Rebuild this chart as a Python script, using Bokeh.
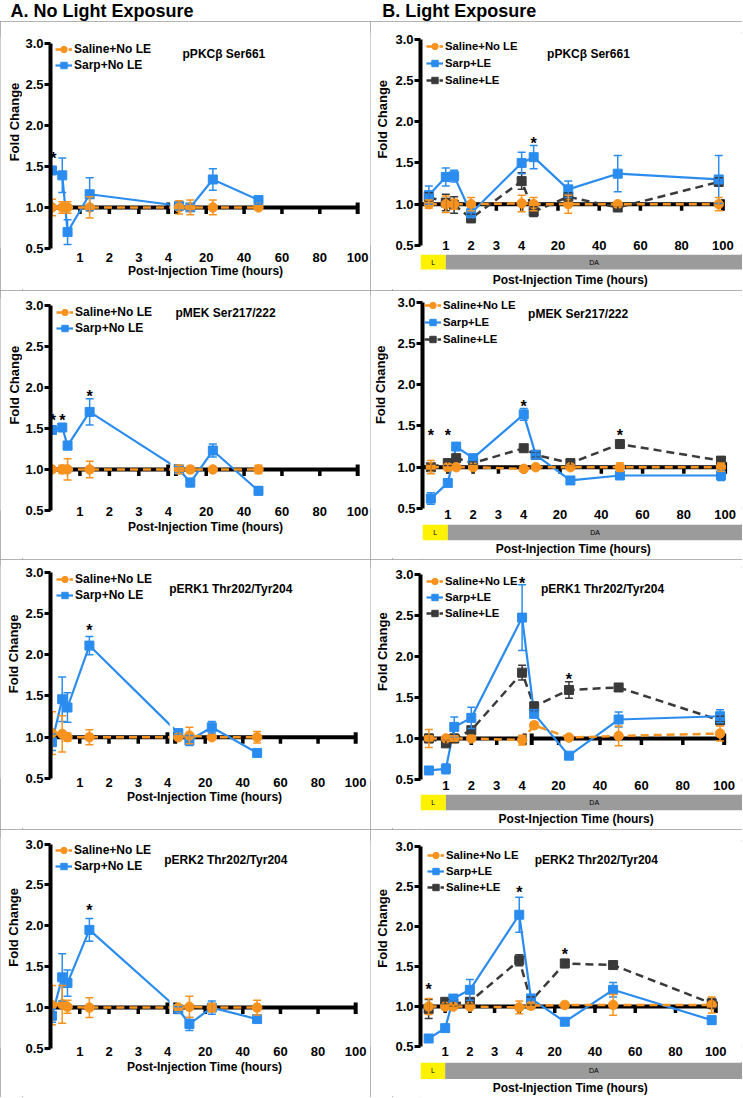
import math
from bokeh.plotting import figure
from bokeh.layouts import column, row
from bokeh.models import (Range1d, FixedTicker, NumeralTickFormatter, Whisker, TeeHead,
                          ColumnDataSource, Legend, LegendItem, Label)
from bokeh.embed import file_html
from bokeh.resources import INLINE
from bokeh.core.properties import value

# ---------------- data (hours / fold change) ----------------
TIMES_A = [0.05, 0.4, 0.58, 1.33, 5.7, 11.6, 23.5, 47.6]
TIMES_B = [0.33, 1.0, 1.33, 2.0, 4.0, 8.2, 25.0, 49.0, 98.0]
X_TICK_HOURS = [1, 2, 3, 4, 20, 40, 60, 80, 100]
X_TICK_LABELS = ["1", "2", "3", "4", "20", "40", "60", "80", "100"]
Y_TICKS = [0.5, 1.0, 1.5, 2.0, 2.5, 3.0]
PANEL_TITLES = ["pPKCβ Ser661", "pMEK Ser217/222", "pERK1 Thr202/Tyr204", "pERK2 Thr202/Tyr204"]
HEADERS = ["A. No Light Exposure", "B. Light Exposure"]
Y_LABEL = "Fold Change"
X_LABEL = "Post-Injection Time (hours)"
BAR_LABELS = ["L", "DA"]          # light phase 0-1 h, dark adaptation afterwards
BAR_EDGES_H = [0.0, 1.0]

# A. No light exposure
PKC_A_SALINE = [1.0, 1.0, 1.0, 1.0, 1.0, 1.0, 1.0, 1.0]
PKC_A_SALINE_ERR = [0.10, 0.07, 0.07, 0.13, 0.08, 0.09, 0.09, 0.02]
PKC_A_SARP = [1.45, 1.39, 0.70, 1.16, 1.02, 1.0, 1.34, 1.09]
PKC_A_SARP_ERR = [0.04, 0.21, 0.15, 0.20, 0.05, 0.04, 0.13, 0.05]
PKC_A_STAR_T = [0.1]
PKC_A_STAR_Y = [1.70]

MEK_A_SALINE = [1.0, 1.0, 1.0, 1.0, 1.0, 1.0, 1.0, 1.0]
MEK_A_SALINE_ERR = [0.03, 0.05, 0.13, 0.10, 0.05, 0.04, 0.02, 0.05]
MEK_A_SARP = [1.48, 1.51, 1.29, 1.70, 1.0, 0.84, 1.23, 0.74]
MEK_A_SARP_ERR = [0.05, 0.04, 0.05, 0.16, 0.04, 0.05, 0.08, 0.05]
MEK_A_STAR_T = [0.08, 0.4, 1.33]
MEK_A_STAR_Y = [1.70, 1.70, 2.0]

ERK1_A_SALINE = [1.05, 1.04, 1.0, 1.0, 1.0, 1.02, 1.0, 1.0]
ERK1_A_SALINE_ERR = [0.26, 0.22, 0.05, 0.09, 0.02, 0.10, 0.02, 0.07]
ERK1_A_SARP = [0.94, 1.46, 1.36, 2.11, 1.05, 0.96, 1.12, 0.81]
ERK1_A_SARP_ERR = [0.10, 0.27, 0.18, 0.11, 0.02, 0.06, 0.07, 0.02]
ERK1_A_STAR_T = [1.33]
ERK1_A_STAR_Y = [2.40]

ERK2_A_SALINE = [1.03, 1.04, 1.01, 1.0, 1.0, 1.01, 1.0, 1.0]
ERK2_A_SALINE_ERR = [0.24, 0.23, 0.08, 0.12, 0.03, 0.13, 0.05, 0.09]
ERK2_A_SARP = [0.90, 1.37, 1.30, 1.95, 0.98, 0.80, 1.0, 0.86]
ERK2_A_SARP_ERR = [0.08, 0.29, 0.16, 0.14, 0.03, 0.08, 0.08, 0.03]
ERK2_A_STAR_T = [1.33]
ERK2_A_STAR_Y = [2.30]

# B. Light exposure
PKC_B_SALINE = [1.0, 1.0, 1.0, 1.0, 1.01, 1.0, 1.0, 1.0, 1.0]
PKC_B_SALINE_ERR = [0.05, 0.10, 0.06, 0.08, 0.10, 0.08, 0.11, 0.02, 0.08]
PKC_B_SARP = [1.11, 1.33, 1.34, 0.89, 1.50, 1.57, 1.18, 1.37, 1.30]
PKC_B_SARP_ERR = [0.11, 0.11, 0.07, 0.05, 0.13, 0.14, 0.10, 0.22, 0.29]
PKC_B_SALINE_LE = [1.09, 1.02, 0.99, 0.83, 1.28, 0.91, 1.09, 0.96, 1.27]
PKC_B_SALINE_LE_ERR = [0.05, 0.10, 0.10, 0.05, 0.10, 0.06, 0.05, 0.02, 0.05]
PKC_B_STAR_T = [8.2]
PKC_B_STAR_Y = [1.84]

MEK_B_SALINE = [1.0, 1.0, 1.0, 1.0, 0.98, 1.0, 1.0, 1.0, 1.0]
MEK_B_SALINE_ERR = [0.08, 0.04, 0.02, 0.02, 0.03, 0.02, 0.02, 0.05, 0.05]
MEK_B_SARP = [0.62, 0.81, 1.25, 1.11, 1.64, 1.15, 0.84, 0.90, 0.90]
MEK_B_SARP_ERR = [0.07, 0.03, 0.04, 0.03, 0.07, 0.04, 0.02, 0.02, 0.06]
MEK_B_SALINE_LE = [1.0, 1.05, 1.11, 1.05, 1.23, 1.15, 1.05, 1.28, 1.08]
MEK_B_SALINE_LE_ERR = [0.04, 0.03, 0.03, 0.02, 0.02, 0.03, 0.03, 0.05, 0.02]
MEK_B_STAR_T = [0.33, 1.0, 4.0, 49.0]
MEK_B_STAR_Y = [1.49, 1.49, 1.85, 1.49]

ERK1_B_SALINE = [1.0, 1.0, 1.0, 1.0, 0.98, 1.16, 1.01, 1.03, 1.06]
ERK1_B_SALINE_ERR = [0.11, 0.02, 0.03, 0.02, 0.06, 0.04, 0.01, 0.12, 0.09]
ERK1_B_SARP = [0.61, 0.63, 1.14, 1.25, 2.47, 1.30, 0.79, 1.23, 1.27]
ERK1_B_SARP_ERR = [0.02, 0.06, 0.12, 0.13, 0.40, 0.05, 0.02, 0.09, 0.08]
ERK1_B_SALINE_LE = [1.0, 0.94, 1.0, 1.10, 1.80, 1.39, 1.59, 1.62, 1.22]
ERK1_B_SALINE_LE_ERR = [0.05, 0.04, 0.05, 0.04, 0.09, 0.05, 0.10, 0.02, 0.05]
ERK1_B_STAR_T = [4.0, 25.0]
ERK1_B_STAR_Y = [2.99, 1.83]

ERK2_B_SALINE = [1.0, 1.0, 1.0, 1.0, 0.99, 1.01, 1.02, 1.02, 1.02]
ERK2_B_SALINE_ERR = [0.10, 0.02, 0.02, 0.02, 0.08, 0.04, 0.01, 0.13, 0.10]
ERK2_B_SARP = [0.60, 0.73, 1.10, 1.21, 2.15, 1.10, 0.81, 1.21, 0.83]
ERK2_B_SARP_ERR = [0.02, 0.03, 0.03, 0.13, 0.22, 0.05, 0.02, 0.09, 0.05]
ERK2_B_SALINE_LE = [0.97, 1.06, 1.04, 1.06, 1.58, 1.07, 1.54, 1.52, 1.04]
ERK2_B_SALINE_LE_ERR = [0.12, 0.03, 0.03, 0.03, 0.07, 0.05, 0.05, 0.01, 0.06]
ERK2_B_STAR_T = [0.33, 4.0, 25.0]
ERK2_B_STAR_Y = [1.33, 2.54, 1.76]

PANEL_DATA = {
    ("A", 0): dict(series=[("Saline+No LE", TIMES_A, PKC_A_SALINE, PKC_A_SALINE_ERR),
                           ("Sarp+No LE", TIMES_A, PKC_A_SARP, PKC_A_SARP_ERR)],
                   stars=(PKC_A_STAR_T, PKC_A_STAR_Y)),
    ("A", 1): dict(series=[("Saline+No LE", TIMES_A, MEK_A_SALINE, MEK_A_SALINE_ERR),
                           ("Sarp+No LE", TIMES_A, MEK_A_SARP, MEK_A_SARP_ERR)],
                   stars=(MEK_A_STAR_T, MEK_A_STAR_Y)),
    ("A", 2): dict(series=[("Saline+No LE", TIMES_A, ERK1_A_SALINE, ERK1_A_SALINE_ERR),
                           ("Sarp+No LE", TIMES_A, ERK1_A_SARP, ERK1_A_SARP_ERR)],
                   stars=(ERK1_A_STAR_T, ERK1_A_STAR_Y)),
    ("A", 3): dict(series=[("Saline+No LE", TIMES_A, ERK2_A_SALINE, ERK2_A_SALINE_ERR),
                           ("Sarp+No LE", TIMES_A, ERK2_A_SARP, ERK2_A_SARP_ERR)],
                   stars=(ERK2_A_STAR_T, ERK2_A_STAR_Y)),
    ("B", 0): dict(series=[("Saline+No LE", TIMES_B, PKC_B_SALINE, PKC_B_SALINE_ERR),
                           ("Sarp+LE", TIMES_B, PKC_B_SARP, PKC_B_SARP_ERR),
                           ("Saline+LE", TIMES_B, PKC_B_SALINE_LE, PKC_B_SALINE_LE_ERR)],
                   stars=(PKC_B_STAR_T, PKC_B_STAR_Y)),
    ("B", 1): dict(series=[("Saline+No LE", TIMES_B, MEK_B_SALINE, MEK_B_SALINE_ERR),
                           ("Sarp+LE", TIMES_B, MEK_B_SARP, MEK_B_SARP_ERR),
                           ("Saline+LE", TIMES_B, MEK_B_SALINE_LE, MEK_B_SALINE_LE_ERR)],
                   stars=(MEK_B_STAR_T, MEK_B_STAR_Y)),
    ("B", 2): dict(series=[("Saline+No LE", TIMES_B, ERK1_B_SALINE, ERK1_B_SALINE_ERR),
                           ("Sarp+LE", TIMES_B, ERK1_B_SARP, ERK1_B_SARP_ERR),
                           ("Saline+LE", TIMES_B, ERK1_B_SALINE_LE, ERK1_B_SALINE_LE_ERR)],
                   stars=(ERK1_B_STAR_T, ERK1_B_STAR_Y)),
    ("B", 3): dict(series=[("Saline+No LE", TIMES_B, ERK2_B_SALINE, ERK2_B_SALINE_ERR),
                           ("Sarp+LE", TIMES_B, ERK2_B_SARP, ERK2_B_SARP_ERR),
                           ("Saline+LE", TIMES_B, ERK2_B_SALINE_LE, ERK2_B_SALINE_LE_ERR)],
                   stars=(ERK2_B_STAR_T, ERK2_B_STAR_Y)),
}

# ---------------- styles & layout ----------------
FONT = "Liberation Sans"
ORANGE = "#F7931E"
BLUE = "#2B8CEF"
DARK = "#3A3A3A"
YELLOW = "#FFF200"
BARGRAY = "#9B9B9B"
OUTLINE = {"outline": "1px solid #9a9a9a", "outline-offset": "-1px"}
STYLE = {
    "Saline+No LE": dict(color=ORANGE, marker="circle", dash="8 5", size=9.5, lw=2.5),
    "Sarp+No LE": dict(color=BLUE, marker="square", dash="solid", size=9, lw=2.2),
    "Sarp+LE": dict(color=BLUE, marker="square", dash="solid", size=9, lw=2.2),
    "Saline+LE": dict(color=DARK, marker="square", dash="8 5", size=9, lw=2.5),
}

YMAX = 3.08
HEADER_H = 21
LABEL_W = 22
COL_W = {"A": 370, "B": 372}
COL_L = {"A": 0, "B": 370}
ROW_H = [269, 269, 270, 268]
ROW_T = [21, 290, 559, 829]
GAP = {"A": 0.261, "B": 0.133}
SLOPE = {"A": 0.0643, "B": 0.0815}
XEND_H = {"A": 101.5, "B": 101.8}
LEG_FONT = {"A": "12px", "B": "11.3px"}

GEOM = {
    ("A", 0): dict(axis_x=49.4, right_x=360, y30=42.7, y05=248.3, tick_so=4, lab_so=-1,
                   legend=(54, 50, 15), title=(181.7, 53.3), ylab=(14.3, 121.7)),
    ("A", 1): dict(axis_x=48.3, right_x=360, y30=305, y05=510, tick_so=-4, lab_so=1,
                   legend=(53.3, 313.3, 15), title=(174, 313.3), ylab=(14.3, 385)),
    ("A", 2): dict(axis_x=46.7, right_x=358, y30=571.7, y05=777.7, tick_so=-1, lab_so=0,
                   legend=(51.7, 580, 15), title=(166.7, 588.3), ylab=(13.3, 653.3)),
    ("A", 3): dict(axis_x=49.3, right_x=358, y30=843.3, y05=1048, tick_so=-2, lab_so=1,
                   legend=(53.3, 851.7, 15), title=(163.3, 859.3), ylab=(13.3, 926.7)),
    ("B", 0): dict(axis_x=419, right_x=726, y30=38.3, y05=244.3, tick_so=-5,
                   legend=(425, 46.7, 16.7), title=(546, 53.3), ylab=(381.7, 118.3),
                   bar=(254, 269), xlab=(569.2, 279)),
    ("B", 1): dict(axis_x=421.7, right_x=728, y30=301.7, y05=507.7, tick_so=1,
                   legend=(423.3, 305, 17), title=(527.3, 313.3), ylab=(379.5, 384.2),
                   bar=(524.3, 540), xlab=(572.5, 548.3)),
    ("B", 2): dict(axis_x=416.7, right_x=727, y30=573.3, y05=778.3, tick_so=1,
                   legend=(423.3, 580, 16.4), title=(538.3, 588.3), ylab=(382, 650.8),
                   bar=(794.3, 810), xlab=(573.8, 818.3), right_start=7.0, left_end=4.1),
    ("B", 3): dict(axis_x=418.3, right_x=719, y30=846.7, y05=1046.7, tick_so=0,
                   legend=(425, 855, 16.2), title=(533.3, 860), ylab=(382.3, 928.3),
                   bar=(1061.7, 1078.3), xlab=(569, 1086.7)),
}


def to_d(h, col, right=None):
    """Broken time axis: 0-4 h linear on the left, then a compressed 4-100 h segment."""
    if right is None:
        right = h > 4
    if not right:
        return float(h)
    return 4 + GAP[col] + (h - 4) * SLOPE[col]


def bare_figure(**kw):
    f = figure(toolbar_location=None, tools="", output_backend="svg", x_axis_type=None,
               y_axis_type=None, outline_line_color=None, background_fill_color="white",
               border_fill_color="white", **kw)
    f.grid.visible = False
    return f


def style_labels(ax, size):
    ax.major_label_text_font = FONT
    ax.major_label_text_font_size = size
    ax.major_label_text_font_style = "bold"
    ax.major_label_text_color = "black"


def build_panel(col, r):
    g = GEOM[(col, r)]
    data = PANEL_DATA[(col, r)]
    panel_h = ROW_H[r]
    has_bar = "bar" in g
    d_end = to_d(XEND_H[col], col)
    ppu = (g["y05"] - g["y30"]) / 2.5
    ppx = (g["right_x"] - g["axis_x"]) / d_end
    xd = lambda xa: (xa - g["axis_x"]) / ppx
    yv = lambda ya: 0.5 + (g["y05"] - ya) / ppu
    fw = COL_W[col] - LABEL_W
    mbl = round(g["axis_x"] - COL_L[col]) - LABEL_W
    if has_bar:
        mbr = 0
        x_end = (fw - mbl) / ppx
    else:
        mbr = COL_W[col] - round(g["right_x"] - COL_L[col])
        x_end = d_end
    top = round((g["y30"] - ROW_T[r]) - (YMAX - 3.0) * ppu)
    fh = round((YMAX - 0.5) * ppu)
    top_h = round(g["bar"][0] - ROW_T[r]) if has_bar else panel_h
    mbb = top_h - top - fh

    p = figure(width=fw, height=top_h, x_range=Range1d(0, x_end), y_range=Range1d(0.5, YMAX),
               toolbar_location=None, tools="", output_backend="svg",
               min_border_left=mbl, min_border_right=mbr, min_border_top=top, min_border_bottom=mbb,
               outline_line_color=None, background_fill_color="white", border_fill_color="white")
    p.grid.visible = False

    # y axis
    ya = p.yaxis[0]
    ya.ticker = FixedTicker(ticks=Y_TICKS)
    ya.formatter = NumeralTickFormatter(format="0.0")
    ya.bounds = (0.5, 3.0)
    ya.axis_line_width = 4
    ya.axis_line_color = "black"
    ya.major_tick_line_width = 3
    ya.major_tick_line_color = "black"
    ya.major_tick_out = 6
    ya.major_tick_in = 0
    ya.minor_tick_line_color = None
    ya.major_label_standoff = 1
    style_labels(ya, "13px")

    # x axis (tick labels; the drawn baseline sits at fold change 1.0)
    xa = p.xaxis[0]
    ticks = [to_d(h, col) for h in X_TICK_HOURS]
    xa.ticker = FixedTicker(ticks=ticks)
    xa.major_label_overrides = {t: lab for t, lab in zip(ticks, X_TICK_LABELS)}
    xa.axis_line_color = None
    xa.major_tick_line_color = None
    xa.minor_tick_line_color = None
    xa.major_tick_out = 0
    xa.major_tick_in = 0
    xa.major_label_standoff = g["tick_so"]
    style_labels(xa, "13px")
    if not has_bar:
        xa.axis_label = X_LABEL
        xa.axis_label_standoff = g["lab_so"]
        xa.axis_label_text_font = FONT
        xa.axis_label_text_font_size = "12px"
        xa.axis_label_text_font_style = "bold"
        xa.axis_label_text_color = "black"

    # baseline at fold change 1.0 (broken axis)
    broken = col == "A" or "right_start" in g
    d100 = to_d(100, col)
    if broken:
        left_end = to_d(g.get("left_end", 4.0), col, right=False)
        rstart = to_d(g.get("right_start", 4.0), col, right=True)
        x0s, x1s = [0.0, rstart], [left_end, d100]
        caps = [left_end, rstart, d100]
    else:
        x0s, x1s = [0.0], [d100]
        caps = [d100]
    p.segment(x0=x0s, y0=[1.0] * len(x0s), x1=x1s, y1=[1.0] * len(x0s),
              line_width=4, line_color="black")
    short = [t for t in ticks if all(abs(t - c) > 0.05 for c in caps)]
    p.segment(x0=short, y0=[1.0] * len(short), x1=short, y1=[1.0 - 6.5 / ppu] * len(short),
              line_width=3.5, line_color="black")
    p.segment(x0=caps, y0=[1.0 + 5 / ppu] * len(caps), x1=caps, y1=[1.0 - 6.5 / ppu] * len(caps),
              line_width=4, line_color="black")

    # series
    series = data["series"]
    draw_order = list(reversed(series))
    line_r = {}
    for name, ts, vals, errs in draw_order:
        st = STYLE[name]
        xs = [to_d(t, col) for t in ts]
        line_r[name] = p.line(xs, vals, line_color=st["color"], line_width=st["lw"],
                              line_dash=st["dash"])
    if col == "A":
        p.quad(left=[4.0 + 2.2 / ppx], right=[to_d(4.0, col, right=True) - 2.2 / ppx],
               bottom=[0.5], top=[YMAX], fill_color="white", line_color=None)
    mark_r = {}
    for name, ts, vals, errs in draw_order:
        st = STYLE[name]
        xs = [to_d(t, col) for t in ts]
        src = ColumnDataSource(dict(x=xs, lo=[v - e for v, e in zip(vals, errs)],
                                    hi=[v + e for v, e in zip(vals, errs)]))
        w = Whisker(base="x", lower="lo", upper="hi", source=src, level="glyph",
                    line_color=st["color"], line_width=1.5,
                    upper_head=TeeHead(size=8, line_color=st["color"], line_width=1.5),
                    lower_head=TeeHead(size=8, line_color=st["color"], line_width=1.5))
        p.add_layout(w)
        mark_r[name] = p.scatter(xs, vals, marker=st["marker"], size=st["size"],
                                 fill_color=st["color"], line_color=st["color"])

    # significance stars
    st_t, st_y = data["stars"]
    p.text(x=[to_d(t, col) for t in st_t], y=st_y, text=["*"] * len(st_t),
           text_font=value(FONT), text_font_size="16px", text_font_style="bold",
           text_color="black", text_align="center", text_baseline="alphabetic", y_offset=9)

    # legend (top-left inside the frame)
    gx, cy, pitch = g["legend"]
    gh = 16
    x_off = gx - g["axis_x"]
    y_off = (cy - g["y30"]) + (YMAX - 3.0) * ppu - gh / 2
    items = [LegendItem(label=name, renderers=[line_r[name], mark_r[name]]) for name, *_ in series]
    leg = Legend(items=items, location="top_left", padding=0, margin=round((x_off + y_off) / 2),
                 spacing=round(pitch - gh),
                 glyph_width=17, glyph_height=gh, label_height=gh, label_standoff=2,
                 label_text_font=FONT, label_text_font_size=LEG_FONT[col],
                 label_text_font_style="bold", label_text_color="black",
                 background_fill_alpha=0, border_line_alpha=0)
    p.add_layout(leg)

    # panel title
    tx, ty = g["title"]
    p.add_layout(Label(x=xd(tx), y=yv(ty), text=PANEL_TITLES[r], text_font=FONT,
                       text_font_size="12px", text_font_style="bold", text_color="black",
                       text_align="left", text_baseline="middle"))

    # y-axis title in a narrow strip sharing the y range
    lx, ly = g["ylab"]
    lf = bare_figure(width=LABEL_W, height=panel_h, x_range=Range1d(0, LABEL_W), y_range=p.y_range,
                     min_border_left=0, min_border_right=0, min_border_top=top,
                     min_border_bottom=panel_h - top - fh)
    lf.text(x=[lx - COL_L[col]], y=[yv(ly)], text=[Y_LABEL], angle=[math.pi / 2],
            text_font=value(FONT), text_font_size="13px", text_font_style="bold",
            text_color="black", text_align="center", text_baseline="middle")

    if not has_bar:
        return row(lf, p, styles=OUTLINE)

    # light (L) / dark-adaptation (DA) bar and the x-axis title below it
    bh = panel_h - top_h
    b_top, b_bot = g["bar"]
    band = b_bot - b_top
    pb = bare_figure(width=fw, height=bh, x_range=p.x_range, y_range=Range1d(0, bh),
                     min_border_left=mbl, min_border_right=0, min_border_top=0, min_border_bottom=0)
    edges = [to_d(h, col) for h in BAR_EDGES_H] + [x_end]
    pb.quad(left=edges[:-1], right=edges[1:], bottom=[bh - band] * 2, top=[bh] * 2,
            fill_color=[YELLOW, BARGRAY], line_color=None)
    pb.text(x=[(edges[i] + edges[i + 1]) / 2 for i in range(2)], y=[bh - band / 2] * 2,
            text=BAR_LABELS, text_font=value(FONT), text_font_size="7px", text_color="black",
            text_align="center", text_baseline="middle")
    xlx, xly = g["xlab"]
    pb.text(x=[xd(xlx)], y=[bh - (xly - b_top)], text=[X_LABEL], text_font=value(FONT),
            text_font_size="12px", text_font_style="bold", text_color="black",
            text_align="center", text_baseline="middle")
    return row(lf, column(p, pb), styles=OUTLINE)


# header
hdr = bare_figure(width=742, height=HEADER_H, x_range=Range1d(0, 742), y_range=Range1d(0, HEADER_H),
                  min_border=0)
for txt, hx in zip(HEADERS, [10, 381.7]):
    hdr.add_layout(Label(x=hx, y=HEADER_H, text=txt, text_font=FONT, text_font_size="18px",
                         text_font_style="bold", text_color="black",
                         text_align="left", text_baseline="top"))

rows = [row(build_panel("A", r), build_panel("B", r)) for r in range(4)]
layout = column(hdr, *rows)

open("out.html", "w").write(file_html(layout, INLINE, "Fold change"))
